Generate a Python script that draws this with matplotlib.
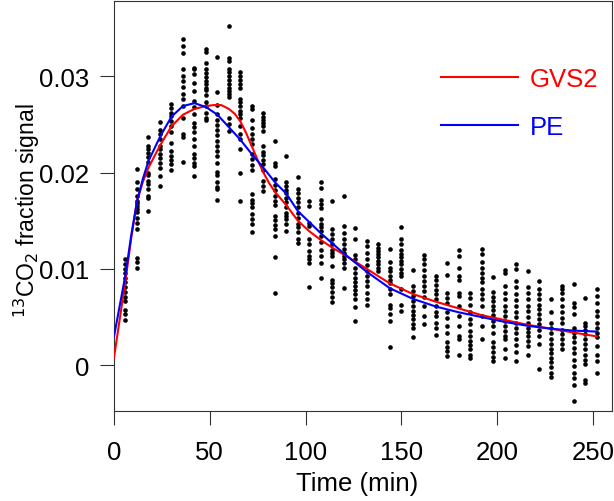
import numpy as np
import matplotlib
matplotlib.use("Agg")
import matplotlib.pyplot as plt

plt.rcParams['font.family'] = ['Liberation Sans', 'DejaVu Sans']

# sampling times (min) of the measured breath signal
times = [6, 12, 18, 24, 30, 36, 42, 48, 54, 60, 66, 72, 78, 84, 90, 96, 102,
         108, 114, 120, 126, 132, 138, 144, 150, 156, 162, 168, 174, 180, 186,
         192, 198, 204, 210, 216, 222, 228, 234, 240, 246, 252]

# measured 13CO2 fraction signal per time point, in units of 1e-4
signal_e4 = [
    [110, 105, 100, 96, 91, 86, 81, 76, 71, 67, 57, 53, 47],
    [204, 190, 183, 176, 171, 168, 165, 162, 159, 153, 148, 141, 111, 107, 101],
    [237, 228, 224, 220, 216, 211, 200, 197, 191, 188, 183, 176, 174, 160],
    [252, 244, 240, 235, 228, 224, 219, 215, 210, 205, 196, 186],
    [271, 267, 262, 259, 254, 248, 242, 231, 222, 217, 213, 209, 203],
    [339, 331, 324, 307, 300, 295, 289, 282, 276, 269, 257, 240, 237, 211],
    [309, 307, 302, 293, 285, 274, 268, 261, 251, 247, 242, 235, 228, 219, 215, 210, 207, 196],
    [328, 325, 314, 307, 303, 299, 295, 292, 288, 286, 280, 273, 269, 262, 257, 255],
    [320, 284, 270, 261, 255, 249, 244, 239, 233, 228, 222, 217, 210, 201, 197, 190, 185, 183, 172],
    [352, 319, 316, 307, 304, 300, 296, 292, 288, 285, 281, 278, 257, 250, 243],
    [304, 300, 296, 292, 288, 276, 273, 269, 264, 261, 257, 248, 240, 235, 224, 200, 170],
    [269, 266, 255, 246, 240, 235, 230, 219, 214, 208, 203, 178, 172, 168, 164, 157, 152, 147, 138],
    [262, 258, 255, 251, 248, 243, 228, 221, 218, 213, 209, 203, 191, 186, 181],
    [233, 210, 207, 193, 187, 182, 176, 171, 166, 155, 151, 146, 141, 134, 112, 75],
    [217, 190, 186, 182, 179, 174, 169, 164, 158, 155, 152, 147, 139],
    [195, 183, 179, 174, 169, 164, 158, 153, 147, 143, 138, 131, 127],
    [170, 165, 148, 145, 131, 126, 119, 113, 110, 106, 81],
    [190, 184, 172, 167, 163, 152, 147, 143, 139, 134, 128, 120, 113, 106, 91],
    [171, 141, 136, 131, 126, 120, 117, 113, 103, 89, 85, 81, 76, 71, 66],
    [176, 145, 137, 131, 126, 121, 117, 113, 110, 106, 101, 80],
    [142, 131, 114, 110, 101, 96, 91, 86, 82, 78, 74, 69, 61, 46],
    [129, 124, 117, 110, 104, 98, 93, 88, 82, 75, 69, 63],
    [126, 122, 119, 115, 112, 108, 105, 101, 98],
    [121, 107, 101, 98, 93, 89, 85, 79, 74, 63, 59, 53, 46, 19],
    [144, 131, 126, 120, 116, 112, 108, 105, 100, 96, 93, 79, 63, 56],
    [99, 82, 77, 72, 67, 62, 56, 52, 48, 43, 39, 29],
    [114, 110, 105, 99, 93, 88, 82, 77, 71, 62, 51, 43],
    [93, 89, 83, 78, 74, 69, 62, 55, 51, 44, 39, 31],
    [106, 94, 75, 70, 65, 55, 49, 41, 34, 24, 19, 15, 10],
    [120, 113, 101, 93, 89, 75, 72, 62, 51, 41, 30, 27, 11],
    [75, 70, 63, 55, 48, 43, 36, 30, 25, 21, 17, 11, 8],
    [121, 115, 107, 101, 96, 91, 86, 79, 74, 69, 62, 51, 41, 27],
    [92, 76, 71, 67, 62, 57, 52, 46, 41, 34, 24, 19, 14, 9, 4],
    [99, 96, 82, 75, 69, 62, 56, 51, 46, 41, 36, 30, 27, 17, 8],
    [105, 100, 88, 81, 74, 68, 62, 55, 50, 44, 39, 34, 27, 21, 14, 4],
    [98, 81, 75, 69, 62, 56, 50, 44, 39, 35, 30, 25, 20, 11],
    [88, 79, 74, 69, 63, 58, 53, 48, 43, 37, 30, 22, -4],
    [69, 55, 44, 39, 34, 27, 22, 17, 13, 8, 3, -2, -8, -12],
    [82, 79, 75, 69, 62, 55, 49, 44, 37, 32, 27, 22, 17],
    [84, 65, 60, 53, 39, 34, 29, 24, 18, 13, 6, -1, -8, -13, -20, -37],
    [70, 44, 41, 37, 32, 27, 22, 17, 11, 6, 1, -15, -18],
    [79, 72, 65, 56, 51, 44, 39, 34, 29, 20, 11, 4, -8],
]

# fitted curves
gvs2_t = [0, 3, 6, 9, 12, 15, 18, 24, 30, 36, 42, 48, 52, 56, 60, 63, 66, 69,
          72, 75, 78, 81, 84, 87, 90, 96, 102, 108, 114, 120, 132, 144, 156,
          168, 180, 192, 204, 216, 228, 240, 252]
gvs2_y = [0.0008, 0.0048, 0.0088, 0.0132, 0.0170, 0.0190, 0.0205, 0.0228,
          0.0248, 0.0260, 0.0266, 0.0269, 0.0270, 0.0270, 0.0266, 0.0261,
          0.0253, 0.0241, 0.0227, 0.0213, 0.0200, 0.0189, 0.0180, 0.0173,
          0.0166, 0.0150, 0.0139, 0.0130, 0.0122, 0.0115, 0.0100, 0.0085,
          0.0074, 0.0066, 0.0059, 0.0052, 0.0047, 0.0042, 0.0038, 0.0034,
          0.0030]

pe_t = [0, 3, 6, 9, 12, 15, 18, 24, 30, 36, 42, 48, 54, 60, 66, 72, 78, 84,
        90, 96, 108, 120, 132, 144, 156, 168, 180, 192, 204, 216, 228, 240, 252]
pe_y = [0.0030, 0.0062, 0.0094, 0.0135, 0.0170, 0.0193, 0.0212, 0.0237,
        0.0258, 0.0269, 0.0272, 0.0268, 0.0260, 0.0247, 0.0234, 0.0219,
        0.0205, 0.0190, 0.0178, 0.0160, 0.0137, 0.0116, 0.0097, 0.0080,
        0.0069, 0.0061, 0.0055, 0.0050, 0.0045, 0.0041, 0.0038, 0.0036, 0.0035]

fig = plt.figure(figsize=(6.14, 5.02), dpi=100)
ax = fig.add_axes([114 / 614, 90 / 502, 498 / 614, 410 / 502])

xs = np.concatenate([[t] * len(v) for t, v in zip(times, signal_e4)])
ys = np.concatenate([np.array(v) * 1e-4 for v in signal_e4])
ax.scatter(xs, ys, s=11, color='black', linewidths=0, zorder=2)

ax.plot(gvs2_t, gvs2_y, color='#ff0000', lw=1.5, label='GVS2', zorder=3)
ax.plot(pe_t, pe_y, color='#0000ff', lw=1.5, label='PE', zorder=3)

ax.set_xlim(0, 260)
ax.set_ylim(-0.00474, 0.0378)
ax.set_xticks([0, 50, 100, 150, 200, 250])
ax.set_yticks([0, 0.01, 0.02, 0.03])
ax.set_yticklabels(['0', '0.01', '0.02', '0.03'])
ax.tick_params(labelsize=18.5, length=10, width=0.8, color='#333333')
ax.tick_params(axis='x', pad=11)
ax.tick_params(axis='y', pad=8)
for sp in ax.spines.values():
    sp.set_linewidth(0.8)
    sp.set_color('#333333')

ax.set_xlabel('Time (min)', fontsize=18.5)
ax.xaxis.set_label_coords(0.488, -0.147)
ax.set_ylabel('$^{13}$CO$_2$ fraction signal', fontsize=16.5)
ax.yaxis.set_label_coords(-0.145, 0.49)

leg = ax.legend(loc='upper left', bbox_to_anchor=(0.657, 0.84), frameon=False,
                fontsize=18.5, handlelength=3.0, handletextpad=0.45,
                labelspacing=0.95, borderpad=0, borderaxespad=0,
                labelcolor='linecolor')

fig.savefig('out.png', dpi=100)
